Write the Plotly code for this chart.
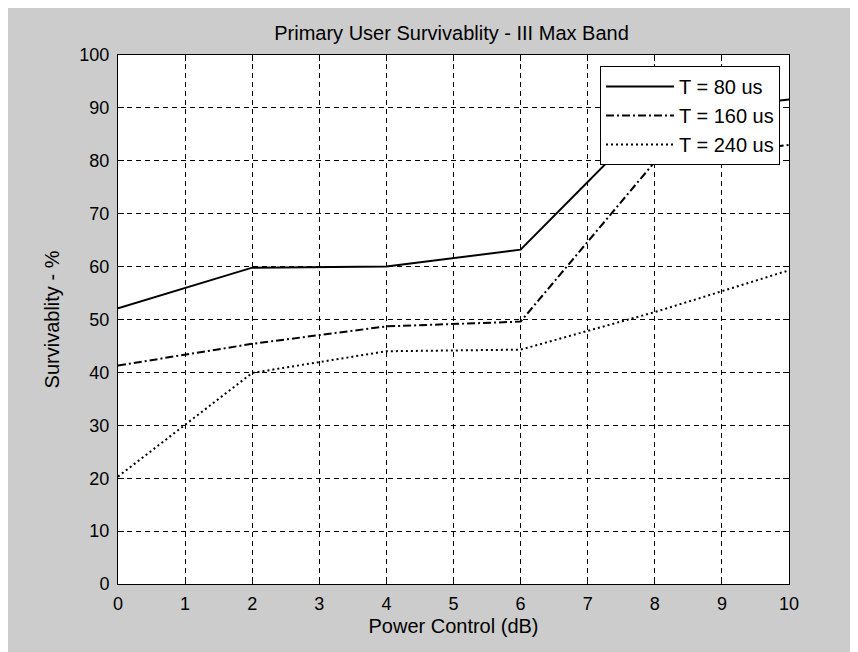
import plotly.graph_objects as go

power_db = [0, 2, 4, 6, 8, 10]
t80 = [52.1, 59.8, 60.0, 63.2, 88.8, 91.6]
t160 = [41.3, 45.4, 48.7, 49.6, 79.8, 83.0]
t240 = [20.3, 39.9, 44.0, 44.3, 51.4, 59.3]
series_names = ["T = 80 us", "T = 160 us", "T = 240 us"]
x_ticks = list(range(0, 11))
y_ticks = list(range(0, 101, 10))

FONT = "Liberation Sans, Arial, sans-serif"
W, H = 850, 644
L, R, T, B = 110, 69, 47, 68

fig = go.Figure()
for name, vals, dash in zip(series_names, [t80, t160, t240],
                            ["solid", "8px,3px,2px,3px", "2px,3px"]):
    fig.add_trace(go.Scatter(x=power_db, y=vals, mode="lines", name=name,
                             line=dict(color="black", width=2, dash=dash)))

axis_common = dict(
    showline=True, linecolor="black", linewidth=1, mirror="ticks",
    ticks="inside", ticklen=6, tickcolor="black",
    showgrid=True, gridcolor="black", griddash="5px,4px", gridwidth=1,
    zeroline=False, tickfont=dict(family=FONT, size=18, color="black"),
)

fig.update_layout(
    width=W, height=H,
    paper_bgcolor="#cccccc", plot_bgcolor="white",
    margin=dict(l=L, r=R, t=T, b=B),
    font=dict(family=FONT, size=20, color="black"),
    title=dict(text="Primary User Survivablity - III Max Band",
               x=(L + (W - R)) / 2 / W - 2 / W, xanchor="center",
               y=1 - 25 / H, yanchor="middle",
               font=dict(family=FONT, size=20, color="black")),
    xaxis=dict(range=[0, 10], tickvals=x_ticks, ticklabelstandoff=3, **axis_common,
               title=dict(text="Power Control (dB)", standoff=6,
                          font=dict(family=FONT, size=20))),
    yaxis=dict(range=[0, 100], tickvals=y_ticks, ticklabelstandoff=4, **axis_common,
               title=dict(text="Survivablity - %", standoff=14,
                          font=dict(family=FONT, size=20))),
    legend=dict(x=1 - 9 / (W - L - R), y=1 - 11 / (H - T - B),
                xanchor="right", yanchor="top",
                bgcolor="white", bordercolor="black", borderwidth=1,
                font=dict(family=FONT, size=20, color="black"), itemwidth=68,
                tracegroupgap=0),
    showlegend=True,
)

fig.write_html("out.html")
